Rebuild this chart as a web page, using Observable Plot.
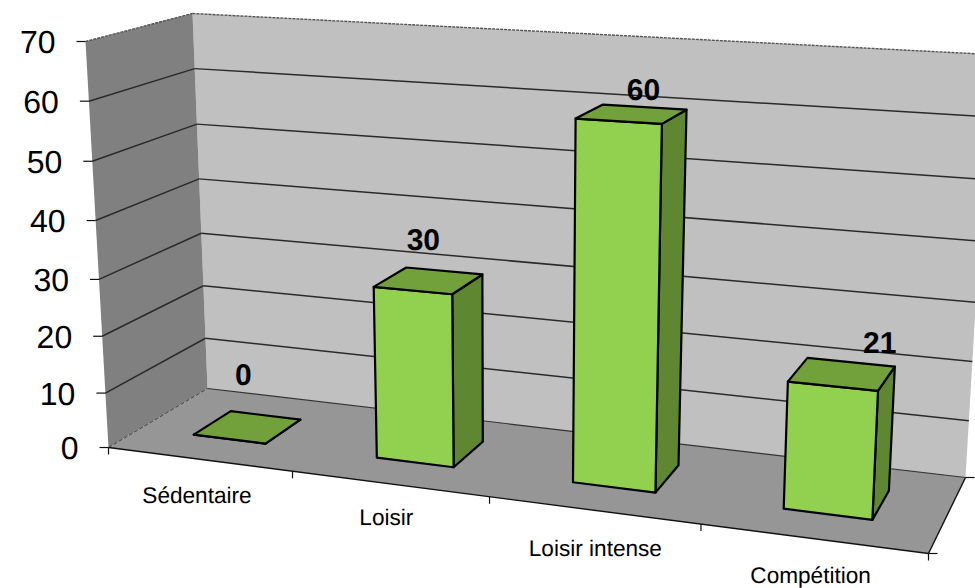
<!DOCTYPE html>
<html lang="fr">
<head>
<meta charset="utf-8">
<title>Niveau d'activité</title>
<style>
  html, body { margin: 0; padding: 0; background: #fff; }
  svg { display: block; }
  svg text { text-rendering: geometricPrecision; }
</style>
<script src="https://cdn.jsdelivr.net/npm/d3@7"></script>
<script src="https://cdn.jsdelivr.net/npm/@observablehq/plot@0.6"></script>
</head>
<body>
<script>
// Chart values
const categories = ["Sédentaire", "Loisir", "Loisir intense", "Compétition"];
const values = [0, 30, 60, 21];
const valueTicks = [0, 10, 20, 30, 40, 50, 60, 70];

// Camera: screen position of the eight corners of the chart box
const box = {
  bottom: {fl: [108, 447], fr: [928, 553], bl: [207, 388], br: [965, 477]},
  top:    {fl: [85, 41],   fr: [950, 86],  bl: [192, 13],  br: [990, 54]}
};
const widthForeshorten = 0.868;
const barDepth = [0.33, 0.72];
const tickHeights = [0, 0.134, 0.274, 0.414, 0.559, 0.705, 0.853, 1];

// Label placement, in pixels, relative to the projected anchor
const categoryNudge = [[-2, 37], [-3, 34], [2, 39], [-2, 37]];
const valueNudge = [[-4, -52], [-5, -40], [12, -24], [38, -31]];

const colors = {
  leftWall: "#808080", backWall: "#c0c0c0", floor: "#969696",
  barFront: "#92d050", barTop: "#72a13c", barSide: "#5f8732",
  grid: "#2a2a2a", edge: "#000"
};

const band = Plot.scale({x: {type: "band", domain: categories, range: [0, 1], paddingInner: 0.6, paddingOuter: 0.3}});
const barStart = (c) => band.apply(c);
const barMiddle = (c) => band.apply(c) + band.bandwidth / 2;
const heightOf = d3.scaleLinear().domain(valueTicks).range(tickHeights);

const mix = (a, b, f) => a + (b - a) * f;
const mixPoint = (p, q, f) => [mix(p[0], q[0], f), mix(p[1], q[1], f)];

// Project (width 0..1, value, depth 0..1) to screen pixels
function project(u, value, depth) {
  const t = widthForeshorten * u / (1 + (widthForeshorten - 1) * u);
  const h = heightOf(value);
  const level = (c) => mixPoint(mixPoint(c.fl, c.fr, t), mixPoint(c.bl, c.br, t), depth);
  const [x, y] = mixPoint(level(box.bottom), level(box.top), h);
  return {x, y};
}

const polygon = (corners) => corners.map(([u, v, d]) => project(u, v, d));
const face = (corners, fill, stroke = "none", strokeWidth = 0) =>
  Plot.line(polygon(corners), {x: "x", y: "y", fill, stroke, strokeWidth, curve: "linear-closed", strokeLinejoin: "round"});

const maxValue = valueTicks[valueTicks.length - 1];

// Walls and floor
const shell = [
  face([[0, 0, 1], [1, 0, 1], [1, maxValue, 1], [0, maxValue, 1]], colors.backWall),
  face([[0, 0, 0], [0, 0, 1], [0, maxValue, 1], [0, maxValue, 0]], colors.leftWall),
  face([[0, 0, 0], [1, 0, 0], [1, 0, 1], [0, 0, 1]], colors.floor)
];

// Gridlines run from the front of the left wall to its back, then across the back wall
const gridLines = valueTicks.flatMap((v) => [
  {a: project(0, v, 0), b: project(0, v, 1), v},
  {a: project(0, v, 1), b: project(1, v, 1), v}
]);
const link = (rows, options) => Plot.link(rows, {
  x1: (d) => d.a.x, y1: (d) => d.a.y, x2: (d) => d.b.x, y2: (d) => d.b.y, ...options
});
const gridFloor = gridLines.filter((d) => d.v > 0 && d.v < maxValue);
const gridEdge = gridLines.filter((d) => d.v === maxValue);
const floorBack = gridLines.filter((d) => d.v === 0);

// Outer axis strokes and ticks
const yTickRows = valueTicks.map((v) => {
  const a = project(0, v, 0);
  return {a: {x: a.x - 9, y: a.y}, b: a, v};
});
const xTickRows = d3.range(categories.length + 1).map((i) => {
  const a = project(i / categories.length, 0, 0);
  return {a, b: {x: a.x, y: a.y + 7}};
});
const depthTickRows = [0, 1].map((d) => {
  const a = project(1, 0, d);
  return {a, b: {x: a.x + 9, y: a.y}};
});
const floorFront = [{a: project(0, 0, 0), b: project(1, 0, 0)}, {a: project(1, 0, 0), b: project(1, 0, 1)}];

// Bars, left to right
const bars = categories.flatMap((c, i) => {
  const u0 = barStart(c), u1 = u0 + band.bandwidth;
  const [d0, d1] = barDepth;
  const v = values[i];
  return [
    face([[u1, 0, d0], [u1, 0, d1], [u1, v, d1], [u1, v, d0]], colors.barSide, colors.edge, 2.2),
    face([[u0, 0, d0], [u1, 0, d0], [u1, v, d0], [u0, v, d0]], colors.barFront, colors.edge, 2.2),
    face([[u0, v, d0], [u1, v, d0], [u1, v, d1], [u0, v, d1]], colors.barTop, colors.edge, 2.2)
  ];
});

const font = "Liberation Sans, Arial, sans-serif";

const chart = Plot.plot({
  width: 975,
  height: 588,
  margin: 0,
  x: {type: "linear", domain: [0, 975], range: [0, 975], axis: null},
  y: {type: "linear", domain: [0, 588], range: [0, 588], axis: null},
  style: {background: "#fff", fontFamily: font},
  marks: [
    ...shell,
    link(gridFloor, {stroke: colors.grid, strokeWidth: 1.5}),
    link(gridEdge, {stroke: "#555", strokeWidth: 1.4, strokeDasharray: "3,1"}),
    link(floorBack.slice(0, 1), {stroke: "#444", strokeWidth: 1, strokeDasharray: "4,2"}),
    link(floorBack.slice(1), {stroke: "#333", strokeWidth: 1.2}),
    link(floorFront, {stroke: "#111", strokeWidth: 1.4}),
    link(yTickRows, {stroke: "#111", strokeWidth: 1.2}),
    link(xTickRows, {stroke: "#111", strokeWidth: 1.2}),
    link(depthTickRows, {stroke: "#111", strokeWidth: 1.2}),
    ...bars,
    Plot.text(valueTicks, {
      x: (v) => project(0, v, 0).x - 30,
      y: (v) => project(0, v, 0).y + 1.5,
      text: (v) => String(v),
      textAnchor: "end",
      lineAnchor: "middle",
      fontSize: 32,
      fill: "#000"
    }),
    Plot.text(categories, {
      x: (c, i) => project(barMiddle(c), 0, 0).x + categoryNudge[i][0],
      y: (c, i) => project(barMiddle(c), 0, 0).y + categoryNudge[i][1],
      text: (c) => c,
      lineAnchor: "middle",
      fontSize: 22.6,
      fill: "#000"
    }),
    Plot.text(values, {
      x: (v, i) => project(barMiddle(categories[i]), v, (barDepth[0] + barDepth[1]) / 2).x + valueNudge[i][0],
      y: (v, i) => project(barMiddle(categories[i]), v, (barDepth[0] + barDepth[1]) / 2).y + valueNudge[i][1],
      text: (v) => String(v),
      lineAnchor: "middle",
      fontSize: 30,
      fontWeight: "bold",
      fill: "#000"
    })
  ]
});
document.body.append(chart);
</script>
</body>
</html>
